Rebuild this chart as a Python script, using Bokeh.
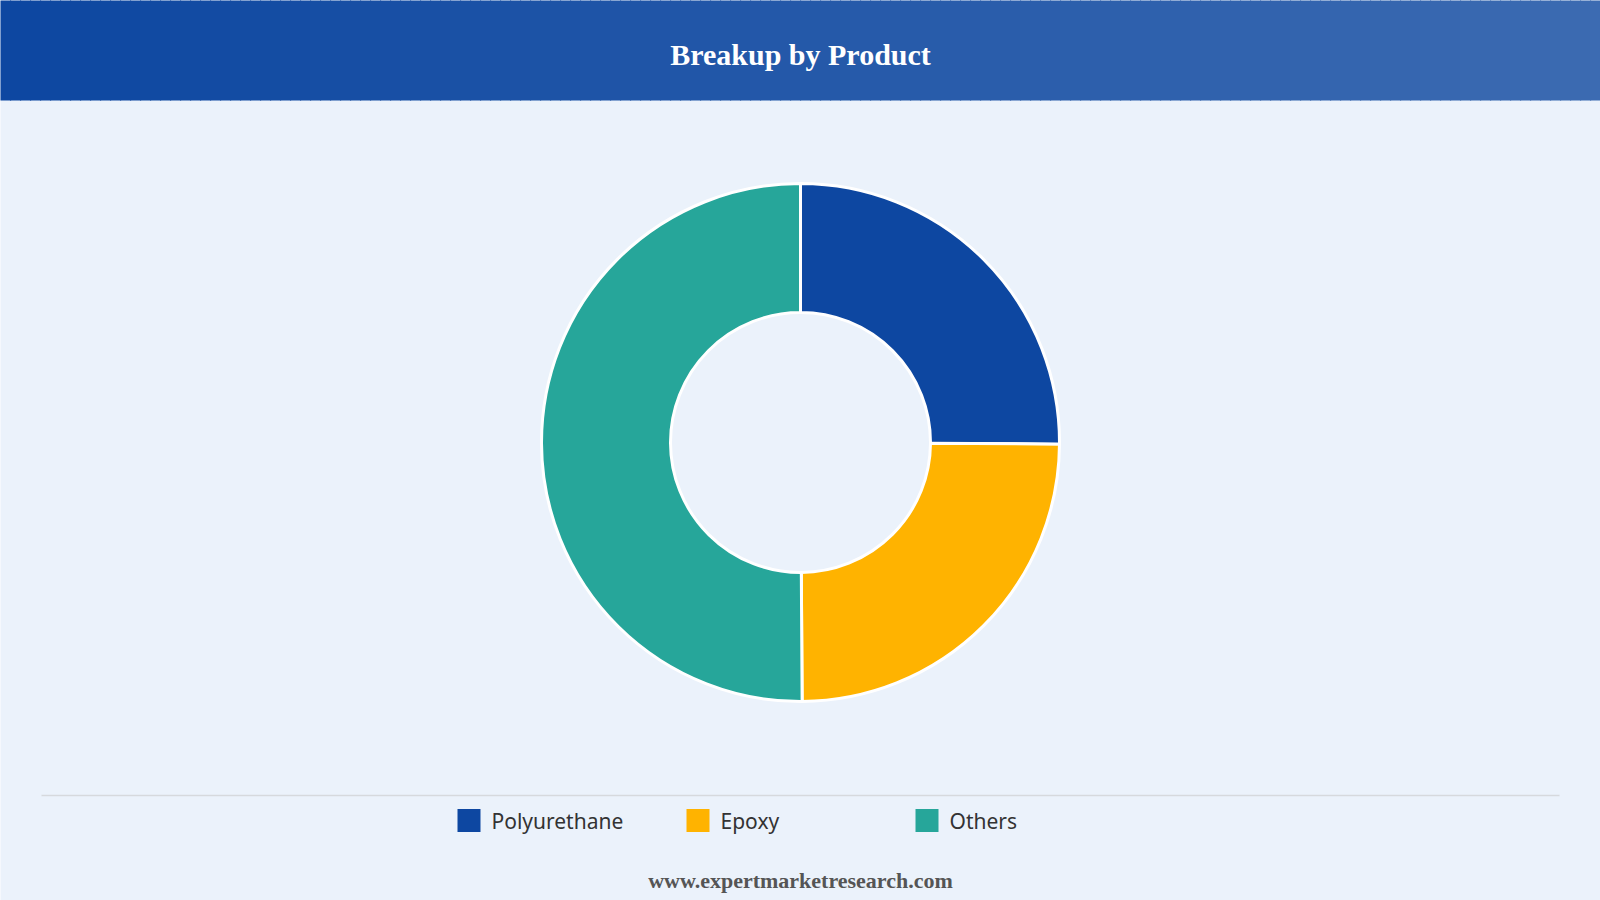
import numpy as np
from bokeh.plotting import figure
from bokeh.models import Range1d, ColumnDataSource
from bokeh.core.properties import value
from bokeh.embed import file_html
from bokeh.resources import INLINE

# ---- data ----
title = "Breakup by Product"
categories = ["Polyurethane", "Epoxy", "Others"]
shares = [25.1, 24.8, 50.1]
colors = ["#0D47A1", "#FFB300", "#26A69A"]
footer = "www.expertmarketresearch.com"

W, H = 1600, 900
def sy(y):  # screen y (top-down) -> data y
    return H - y

p = figure(width=W, height=H, x_range=Range1d(0, W), y_range=Range1d(0, H),
           output_backend="svg", toolbar_location=None, min_border=0,
           background_fill_color="#EBF2FB", border_fill_color="#EBF2FB",
           outline_line_color=None)
p.axis.visible = False
p.grid.visible = False

# header gradient
n = 160
c0 = np.array([13, 71, 161]); c1 = np.array([60, 107, 178])
xs = np.linspace(0, W, n + 1)
cols = []
for i in range(n):
    t = i / (n - 1)
    c = (c0 * (1 - t) + c1 * t).astype(int)
    cols.append("#%02x%02x%02x" % tuple(c))
p.quad(left=xs[:-1] - 0.5, right=xs[1:] + 0.6, bottom=sy(100), top=H + 2,
       fill_color=cols, line_color=None)
p.text(x=[W / 2], y=[sy(54)], text=[title], text_align="center",
       text_baseline="middle", text_color="white",
       text_font=value("Liberation Serif"), text_font_style="bold",
       text_font_size="30px")

# donut
cx, cy = 800, sy(442)
total = sum(shares)
fr = np.array(shares) / total
ends = np.cumsum(fr)
starts = ends - fr
start_ang = np.pi / 2 - 2 * np.pi * starts
end_ang = np.pi / 2 - 2 * np.pi * ends
src = ColumnDataSource(dict(start=start_ang, end=end_ang, color=colors))
p.annular_wedge(x=cx, y=cy, inner_radius=130, outer_radius=259,
                start_angle="start", end_angle="end", direction="clock",
                fill_color="color", line_color="white", line_width=3,
                source=src)

# separator
p.segment(x0=[41], y0=[sy(795)], x1=[1559], y1=[sy(795)],
          line_color="#D6D9DD", line_width=1.5)

# legend
lx = [457 + 229 * i for i in range(len(categories))]
p.rect(x=[x + 11.5 for x in lx], y=[sy(820)] * len(lx), width=23, height=23,
       fill_color=colors, line_color=None)
p.text(x=[x + 34 for x in lx], y=[sy(820)] * len(lx), text=categories,
       text_baseline="middle", text_color="#333333",
       text_font=value("Noto Sans"), text_font_size="21px")

# footer
p.text(x=[W / 2], y=[sy(880)], text=[footer], text_align="center",
       text_baseline="middle", text_color="#555555",
       text_font=value("Liberation Serif"), text_font_style="bold",
       text_font_size="22px")

open("out.html", "w").write(file_html(p, INLINE))
